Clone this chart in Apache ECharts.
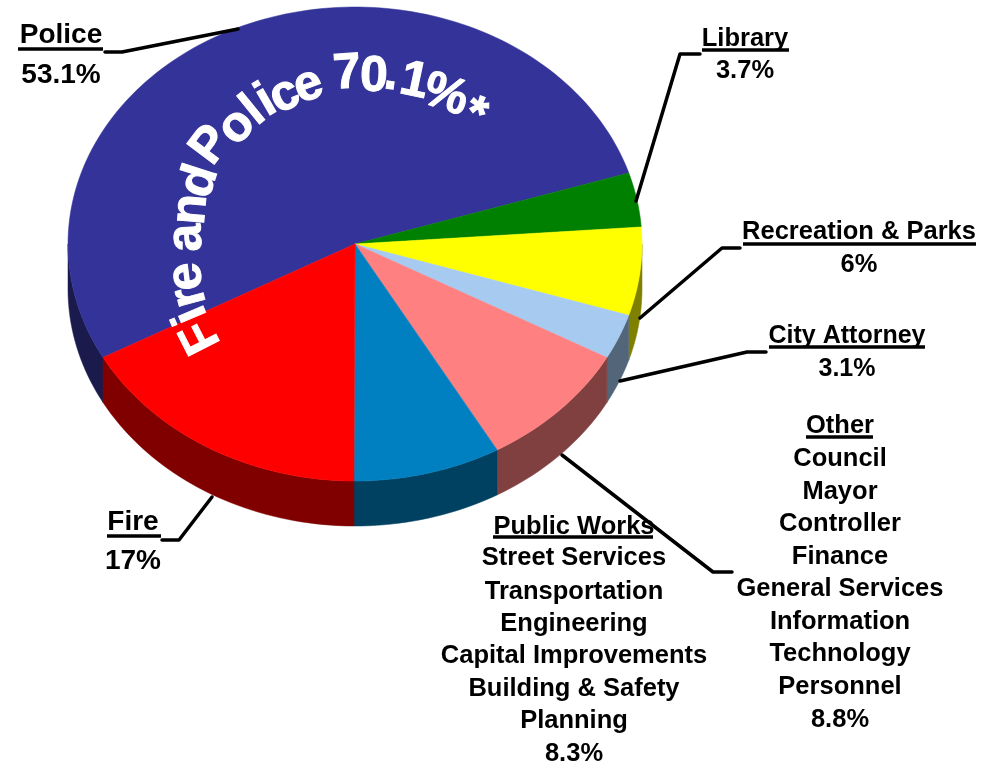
<!DOCTYPE html>
<html>
<head>
<meta charset="utf-8">
<style>html,body{margin:0;padding:0;background:#fff}#chart{width:989px;height:763px}</style>
<script src="https://cdn.jsdelivr.net/npm/echarts@6/dist/echarts.min.js"></script>
</head>
<body>
<div id="chart"></div>
<script>
// Budget shares, clockwise from the Fire/Police boundary
const sliceNames = ['Police', 'Library', 'Recreation & Parks', 'City Attorney', 'Other', 'Public Works', 'Fire'];
const sliceValues = [53.1, 3.7, 6, 3.1, 8.8, 8.3, 17];
const topColors = ['#333399', '#008000', '#ffff00', '#a6caf0', '#ff8080', '#0080c0', '#ff0000'];
const wallColors = ['#1a1a4d', '#004000', '#808000', '#536578', '#804040', '#004060', '#800000'];

// Pie disc geometry
const CX = 355, CY = 244, RX = 287, RY = 237, DEPTH = 45, START_DEG = 151.4;

// Text blocks beside the pie
const FONT = 'bold 25.5px "Liberation Sans", Arial, sans-serif';
const FONT_SMALL = 'bold 25px "Liberation Sans", Arial, sans-serif';
const FONT_BIG = 'bold 28px "Liberation Sans", Arial, sans-serif';
const policeLines = ['Police', '53.1%'];
const policeYs = [35, 75];
const fireLines = ['Fire', '17%'];
const fireYs = [522, 561];
const libraryLines = ['Library', '3.7%'];
const libraryYs = [39, 71];
const recLines = ['Recreation & Parks', '6%'];
const recYs = [232, 265];
const attorneyLines = ['City Attorney', '3.1%'];
const attorneyYs = [336, 369];
const otherLines = ['Other', 'Council', 'Mayor', 'Controller', 'Finance', 'General Services', 'Information', 'Technology', 'Personnel', '8.8%'];
const otherYs = [426, 459, 492, 524, 557, 589, 622, 654, 687, 720];
const worksLines = ['Public Works', 'Street Services', 'Transportation', 'Engineering', 'Capital Improvements', 'Building & Safety', 'Planning', '8.3%'];
const worksYs = [527, 558, 592, 624, 656, 689, 721, 754];

const textBlocks = [
  { cx: 61, font: FONT_BIG, lines: policeLines, ys: policeYs },
  { cx: 133, font: FONT_BIG, lines: fireLines, ys: fireYs },
  { cx: 745, font: FONT, lines: libraryLines, ys: libraryYs },
  { cx: 859, font: FONT, lines: recLines, ys: recYs },
  { cx: 847, font: FONT_SMALL, lines: attorneyLines, ys: attorneyYs },
  { cx: 840, font: FONT, lines: otherLines, ys: otherYs },
  { cx: 574, font: FONT, lines: worksLines, ys: worksYs }
];

// Heading underlines: [x1, x2, y]
const underlines = [
  [18, 103, 49], [107, 161, 536], [702, 789, 50], [743, 976, 244],
  [769, 925, 347], [806, 873, 437], [493, 653, 537]
];

// Leader lines from each heading to its slice
const leaders = [
  [[105, 52], [122, 52], [238, 29]],
  [[162, 540], [179, 540], [212, 497]],
  [[700, 54], [680, 54], [636, 201]],
  [[740, 248], [722, 248], [640, 318]],
  [[766, 352], [747, 352], [620, 381]],
  [[732, 572], [713, 572], [562, 455]]
];

// Banner set along the top of the Police slice: one glyph per entry
const bannerChars = ['F','i','r','e','a','n','d','P','o','l','i','c','e','7','0','.','1','%','*'];
const bannerXs = [198, 188, 186, 183, 183, 187, 196, 208, 234, 251, 264, 283, 307, 347, 374, 392, 415, 447, 477];
const bannerYs = [338, 316, 298, 277, 238, 209, 180, 143, 124, 108, 98, 92, 82, 70, 73, 71, 78, 92, 112];
const bannerAngles = [-117, -113, -105, -97, -92, -85, -72, -53, -45, -39, -30, -25, -20, -4, 2, 8, 12, 18, 20];
const BANNER_DROP = 4;

// Slice start/end angles, in degrees on the disc
let running = START_DEG;
const spans = sliceValues.map(function (v) {
  const a0 = running;
  running += v * 3.6;
  return [a0, running];
});

function rimPoints(a0, a1, dy) {
  const n = Math.max(2, Math.ceil((a1 - a0) / 1.5));
  const pts = [];
  for (let i = 0; i <= n; i++) {
    const t = (a0 + (a1 - a0) * i / n) * Math.PI / 180;
    pts.push([CX + RX * Math.cos(t), CY + dy + RY * Math.sin(t)]);
  }
  return pts;
}

// The wall is only seen where the rim faces the viewer (0..180 deg, mod 360)
function wallShape(a0, a1) {
  const pieces = [];
  [[0, 180], [360, 540]].forEach(function (win) {
    const lo = Math.max(a0, win[0]), hi = Math.min(a1, win[1]);
    if (hi > lo) {
      pieces.push(rimPoints(lo, hi, 0).concat(rimPoints(lo, hi, DEPTH).reverse()));
    }
  });
  return pieces;
}

const seriesData = sliceNames.map(function (name, i) {
  return { name: name, value: [sliceValues[i], spans[i][0], spans[i][1]] };
});

const graphicEls = [];
textBlocks.forEach(function (b) {
  b.lines.forEach(function (line, i) {
    graphicEls.push({
      type: 'text', z: 10, x: b.cx, y: b.ys[i],
      style: { text: line, font: b.font, fill: '#000', align: 'center', verticalAlign: 'middle' }
    });
  });
});
underlines.forEach(function (u) {
  graphicEls.push({
    type: 'line', z: 10,
    shape: { x1: u[0], y1: u[2], x2: u[1], y2: u[2] },
    style: { stroke: '#000', lineWidth: 3.5 }
  });
});
leaders.forEach(function (pts) {
  graphicEls.push({
    type: 'polyline', z: 11,
    shape: { points: pts },
    style: { stroke: '#000', lineWidth: 3.5, fill: null, lineCap: 'round', lineJoin: 'round' }
  });
});
bannerChars.forEach(function (ch, i) {
  graphicEls.push({
    type: 'text', z: 12, x: bannerXs[i], y: bannerYs[i],
    rotation: -bannerAngles[i] * Math.PI / 180,
    style: {
      text: ch, x: 0, y: BANNER_DROP, font: 'bold 50px "Liberation Sans", Arial, sans-serif',
      fill: '#fff', stroke: '#fff', lineWidth: 1, align: 'center', verticalAlign: 'middle'
    }
  });
});

const chart = echarts.init(document.getElementById('chart'), null, { renderer: 'canvas' });
chart.setOption({
  backgroundColor: '#fff',
  animation: false,
  graphic: { elements: graphicEls },
  series: [
    {
      // Rim of the disc, drawn first
      type: 'custom', coordinateSystem: 'none', z: 2, silent: true,
      data: seriesData,
      renderItem: function (params, api) {
        const i = params.dataIndex;
        const children = wallShape(api.value(1), api.value(2)).map(function (pts) {
          return { type: 'polygon', shape: { points: pts }, style: { fill: wallColors[i], stroke: wallColors[i], lineWidth: 0.5 } };
        });
        return { type: 'group', children: children };
      }
    },
    {
      // Top face of the disc
      type: 'custom', coordinateSystem: 'none', z: 3, silent: true,
      data: seriesData,
      renderItem: function (params, api) {
        const i = params.dataIndex;
        const pts = [[CX, CY]].concat(rimPoints(api.value(1), api.value(2), 0));
        return { type: 'polygon', shape: { points: pts }, style: { fill: topColors[i], stroke: topColors[i], lineWidth: 0.5 } };
      }
    }
  ]
});
</script>
</body>
</html>
